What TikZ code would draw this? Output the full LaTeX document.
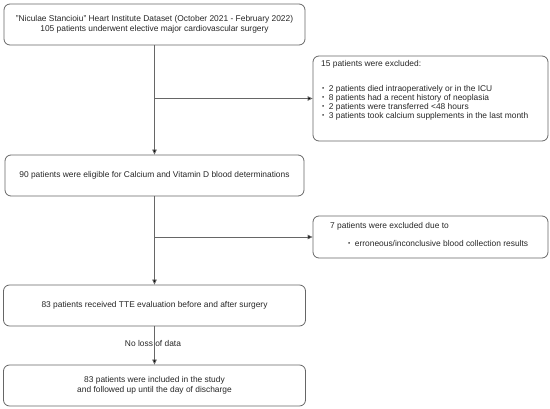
\documentclass[tikz,border=0pt]{standalone}
\usepackage{fontspec}
\setmainfont{Liberation Sans}
\usetikzlibrary{arrows.meta}
\newcommand{\smbul}{\raisebox{0.5pt}{\scalebox{0.75}{\textbullet}}}
\begin{document}
\begin{tikzpicture}[x=1pt,y=-1pt,
  box/.style={draw=black!60,line width=0.8pt,rounded corners=6pt,minimum height=41pt,inner sep=0pt},
  txt/.style={font=\fontsize{8.4}{10.6}\selectfont,inner sep=0pt,text=black!85},
  conn/.style={draw=black!60,line width=0.8pt},
  arr/.style={conn,-{Triangle[length=5pt,width=4.5pt,fill=black]}}]
\useasboundingbox (0,0) rectangle (550,409);
\node[box,minimum width=301pt] (b1) at (154.5,24.5) {};
\node[txt,align=center] (t1) at (154.5,24.5) {"Niculae Stancioiu" Heart Institute Dataset (October 2021 - February 2022)\\105 patients underwent elective major cardiovascular surgery};
\node[box,minimum width=235pt,minimum height=85pt] (b2) at (430.5,98.5) {};
\node[txt,anchor=west] (t2h) at (321,64) {15 patients were excluded:};
\node[txt,anchor=west] (t2a) at (322,89) {\smbul\hspace{4.5pt}2 patients died intraoperatively or in the ICU};
\node[txt,anchor=west] (t2b) at (322,98) {\smbul\hspace{4.5pt}8 patients had a recent history of neoplasia};
\node[txt,anchor=west] (t2c) at (322,107) {\smbul\hspace{4.5pt}2 patients were transferred <48 hours};
\node[txt,anchor=west] (t2d) at (322,116) {\smbul\hspace{4.5pt}3 patients took calcium supplements in the last month};
\node[box,minimum width=299pt] (b3) at (154.5,175.5) {};
\node[txt] (t3) at (154.5,175.5) {90 patients were eligible for Calcium and Vitamin D blood determinations};
\node[box,minimum width=235pt,minimum height=42pt] (b4) at (430.5,237) {};
\node[txt,anchor=west] (t4h) at (330,226) {7 patients were excluded due to};
\node[txt,anchor=west] (t4a) at (348,243) {\smbul\hspace{4.5pt}erroneous/inconclusive blood collection results};
\node[box,minimum width=302pt] (b5) at (154.5,305.5) {};
\node[txt] (t5) at (154.5,305.5) {83 patients received TTE evaluation before and after surgery};
\node[box,minimum width=302pt] (b6) at (154.5,385.5) {};
\node[txt,align=center] (t6) at (154.5,385.5) {83 patients were included in the study\\and followed up until the day of discharge};
\coordinate (j1) at (154.5,98.5);
\coordinate (j2) at (154.5,237);
\draw[arr] (b1.south) -- (b3.north);
\draw[arr] (j1) -- (b2.west);
\draw[arr] (b3.south) -- (b5.north);
\draw[arr] (j2) -- (b4.west);
\draw[arr] (b5.south) -- (b6.north);
\node[txt] (lbl) at (153,343) {No loss of data};
\end{tikzpicture}
\end{document}
